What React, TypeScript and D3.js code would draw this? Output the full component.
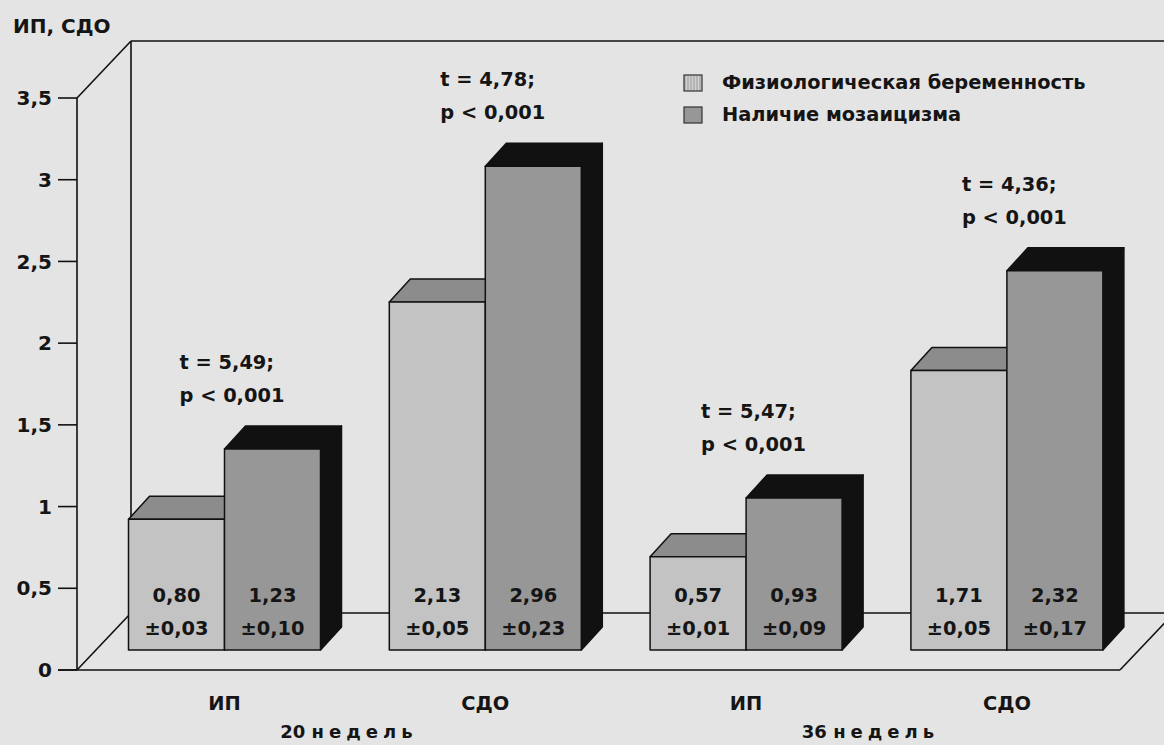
import React from "react";
import * as d3 from "d3";

// ---- data ----
const categories = ["ИП", "СДО", "ИП", "СДО"];
const periods = ["20 недель", "36 недель"];
const seriesNames = ["Физиологическая беременность", "Наличие мозаицизма"];
const physValues = [0.8, 2.13, 0.57, 1.71];
const physErrors = [0.03, 0.05, 0.01, 0.05];
const mosaValues = [1.23, 2.96, 0.93, 2.32];
const mosaErrors = [0.1, 0.23, 0.09, 0.17];
const tValues = [5.49, 4.78, 5.47, 4.36];
const pLabels = ["p < 0,001", "p < 0,001", "p < 0,001", "p < 0,001"];
const yTicks = [0, 0.5, 1, 1.5, 2, 2.5, 3, 3.5];
const yTitle = "ИП, СДО";

// ---- layout ----
const W = 1164;
const H = 745;
const FONT = "'DejaVu Sans', sans-serif";
const BG = "#e4e4e4";
const LIGHT = "#c3c3c3";
const LIGHT_TOP = "#8c8c8c";
const DARK = "#979797";
const BLACK = "#111111";

const yFront = d3.scaleLinear().domain([0, 3.5]).range([670, 98]);
const DX = 54; // full floor depth
const DY = -57;
const axisX = 77;
const floorRight = 1120;
const barPlaneDy = -20; // bars stand at this depth
const yBar = d3
  .scaleLinear()
  .domain([0, 3.5])
  .range([yFront(0) + barPlaneDy, yFront(3.5) + barPlaneDy]);
const step = 260.8;
const x0 = 224.5 - step / 2;
const xBand = d3
  .scaleBand<number>()
  .domain(d3.range(categories.length))
  .range([x0, x0 + step * categories.length]);
const barW = 96;
const xInner = d3.scaleBand<number>().domain([0, 1]).range([-barW, barW]);
const bdx = 21;
const bdy = -23;

const fmt2 = (v: number) => d3.format(".2f")(v).replace(".", ",");
const fmtTick = (v: number) => String(v).replace(".", ",");

function T(props: {
  x: number;
  y: number;
  anchor?: string;
  size?: number;
  ls?: number;
  children: React.ReactNode;
}) {
  const { x, y, anchor = "start", size = 19.4, ls = 0, children } = props;
  return (
    <text
      x={x}
      y={y}
      dy="0.36em"
      textAnchor={anchor}
      fontFamily={FONT}
      fontWeight={700}
      fontSize={size}
      letterSpacing={ls}
      fill="#151515"
    >
      {children}
    </text>
  );
}

function Bar(props: { x: number; v: number; front: string; top: string; side: string }) {
  const { x, v, front, top, side } = props;
  const base = yBar(0);
  const yt = yBar(v);
  const x1 = x + barW;
  return (
    <g stroke={BLACK} strokeWidth={1.5} strokeLinejoin="round">
      <path
        d={`M${x1},${yt} L${x1 + bdx},${yt + bdy} L${x1 + bdx},${base + bdy} L${x1},${base} Z`}
        fill={side}
      />
      <path
        d={`M${x},${yt} L${x + bdx},${yt + bdy} L${x1 + bdx},${yt + bdy} L${x1},${yt} Z`}
        fill={top}
      />
      <rect x={x} y={yt} width={barW} height={base - yt} fill={front} />
    </g>
  );
}

export default function App() {
  const groups = d3.range(categories.length).map((i) => {
    const g = (xBand(i) as number) + xBand.bandwidth() / 2;
    return { i, g };
  });
  const y0 = yFront(0);
  const yTop = yFront(3.5);
  return (
    <svg
      width={W}
      height={H}
      viewBox={`0 0 ${W} ${H}`}
      style={{ position: "absolute", left: 0, top: 0 }}
    >
      <defs>
        <pattern id="hatch" width="3" height="3" patternUnits="userSpaceOnUse">
          <rect width="3" height="3" fill="#d0d0d0" />
          <line x1="1" y1="0" x2="1" y2="3" stroke="#9a9a9a" strokeWidth="1" />
        </pattern>
      </defs>
      <rect width={W} height={H} fill={BG} />

      {/* walls and floor */}
      <g stroke={BLACK} strokeWidth={1.6} fill="none">
        <line x1={axisX + DX} y1={yTop + DY} x2={W + 10} y2={yTop + DY} />
        <line x1={axisX + DX} y1={yTop + DY} x2={axisX + DX} y2={y0 + DY} />
        <line x1={axisX} y1={yTop} x2={axisX + DX} y2={yTop + DY} />
        <line x1={axisX} y1={yTop} x2={axisX} y2={y0} />
        <line x1={axisX} y1={y0} x2={axisX + DX} y2={y0 + DY} />
        <line x1={axisX + DX} y1={y0 + DY} x2={W + 20} y2={y0 + DY} />
        <line x1={axisX - 19} y1={y0} x2={floorRight} y2={y0} />
        <line x1={floorRight} y1={y0} x2={floorRight + DX} y2={y0 + DY} />
        {yTicks.map((t) => (
          <line key={t} x1={axisX - 19} x2={axisX} y1={yFront(t)} y2={yFront(t)} />
        ))}
      </g>

      {yTicks.map((t) => (
        <T key={t} x={52} y={yFront(t)} anchor="end" size={20}>
          {fmtTick(t)}
        </T>
      ))}
      <T x={13} y={26} size={20}>
        {yTitle}
      </T>

      {/* bars */}
      {groups.map(({ i, g }) => {
        const xl = g + (xInner(0) as number);
        const xd = g + (xInner(1) as number);
        return (
          <g key={i}>
            <Bar x={xl} v={physValues[i]} front={LIGHT} top={LIGHT_TOP} side={LIGHT_TOP} />
            <Bar x={xd} v={mosaValues[i]} front={DARK} top={BLACK} side={BLACK} />
            <T x={xl + barW / 2} y={yBar(0) - 55} anchor="middle">
              {fmt2(physValues[i])}
            </T>
            <T x={xl + barW / 2} y={yBar(0) - 22} anchor="middle">
              {"±" + fmt2(physErrors[i])}
            </T>
            <T x={xd + barW / 2} y={yBar(0) - 55} anchor="middle">
              {fmt2(mosaValues[i])}
            </T>
            <T x={xd + barW / 2} y={yBar(0) - 22} anchor="middle">
              {"±" + fmt2(mosaErrors[i])}
            </T>
          </g>
        );
      })}

      {/* annotations */}
      {groups.map(({ i, g }) => {
        const top = yBar(Math.max(physValues[i], mosaValues[i])) + bdy;
        const py = top - 31;
        return (
          <g key={"a" + i}>
            <T x={g - 45} y={py - 33}>
              {"t = " + fmt2(tValues[i]) + ";"}
            </T>
            <T x={g - 45} y={py}>
              {pLabels[i]}
            </T>
          </g>
        );
      })}

      {/* category labels */}
      {groups.map(({ i, g }) => (
        <T key={"c" + i} x={g} y={703} anchor="middle">
          {categories[i]}
        </T>
      ))}
      {periods.map((p, k) => {
        const ga = groups[k * 2].g;
        const gb = groups[k * 2 + 1].g;
        const [num, word] = p.split(" ");
        return (
          <text
            key={p}
            x={(ga + gb) / 2 - 6}
            y={732}
            dy="0.36em"
            textAnchor="middle"
            fontFamily={FONT}
            fontWeight={700}
            fontSize={18}
            fill="#151515"
          >
            <tspan>{num} </tspan>
            <tspan letterSpacing={5}>{word}</tspan>
          </text>
        );
      })}

      {/* legend */}
      {seriesNames.map((s, k) => (
        <g key={s}>
          <rect
            x={684}
            y={75 + k * 32}
            width={18}
            height={16}
            fill={k === 0 ? "url(#hatch)" : DARK}
            stroke="#333"
            strokeWidth={1.2}
          />
          <T x={722} y={82 + k * 32}>
            {s}
          </T>
        </g>
      ))}
    </svg>
  );
}
